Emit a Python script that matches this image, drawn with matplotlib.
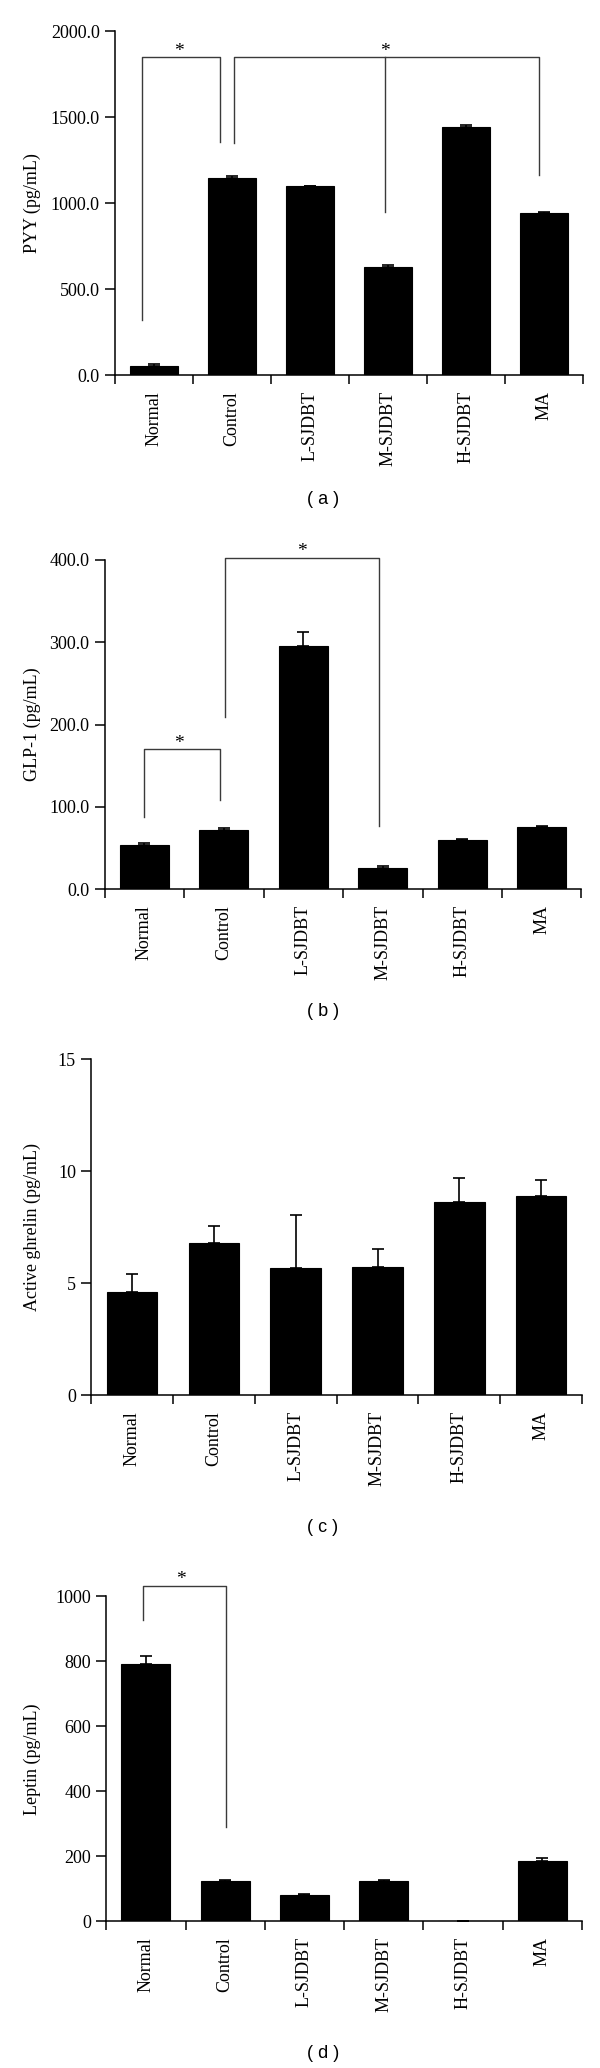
import numpy as np
import matplotlib
matplotlib.use("Agg")
import matplotlib.pyplot as plt

# groups (same for every panel)
groups = ["Normal", "Control", "L-SJDBT", "M-SJDBT", "H-SJDBT", "MA"]

# (a) PYY
pyy_mean = [54, 1143, 1097, 630, 1444, 940]
pyy_err = [8, 12, 4, 8, 8, 6]
# (b) GLP-1
glp_mean = [53.1, 71.4, 295.7, 26.0, 59.6, 75.9]
glp_err = [2.5, 3.2, 16.7, 1.6, 0.8, 0.8]
# (c) active ghrelin
ghr_mean = [4.59, 6.79, 5.69, 5.72, 8.61, 8.88]
ghr_err = [0.83, 0.78, 2.34, 0.79, 1.10, 0.71]
# (d) leptin
lep_mean = [791, 123, 82, 123, 0, 187]
lep_err = [24, 3, 3, 5, 0, 8]

# significance brackets: (x_left, x_right, top, left_end, right_end, star_x, middle drop)
pyy_brackets = [
    (0.35, 1.35, 1847, 320, 1357, 0.82, None),
    (1.53, 5.43, 1847, 1347, 1163, 3.46, (3.46, 950)),
]
glp_brackets = [
    (0.50, 1.45, 170, 88, 108, 0.94, None),
    (1.52, 3.45, 403, 209, 77, 2.48, None),
]
lep_brackets = [
    (0.46, 1.51, 1033, 928, 289, 0.94, None),
]

W, H = 600, 2068
fig = plt.figure(figsize=(W / 100, H / 100), dpi=100)

SERIF = "Liberation Serif"
SANS = "Liberation Sans"


def add_panel(box, means, errs, ymax, ystep, fmt, ylabel, caption, cap_y, brackets):
    left, top, right, bottom = box
    ax = fig.add_axes([left / W, 1 - bottom / H, (right - left) / W, (bottom - top) / H])
    x = np.arange(len(groups)) + 0.5
    ax.bar(x, means, width=0.62, color="black", edgecolor="black", linewidth=0.8, zorder=2)
    ax.errorbar(x, means, yerr=[np.zeros(len(errs)), errs], fmt="none",
                ecolor="black", elinewidth=1.2, capsize=4, capthick=1.2, zorder=3)
    ax.set_xlim(0, len(groups))
    ax.set_ylim(0, ymax)
    ax.spines["top"].set_visible(False)
    ax.spines["right"].set_visible(False)
    for s in ("left", "bottom"):
        ax.spines[s].set_linewidth(1.1)

    # boundary ticks as major, group names on minor ticks
    ax.set_xticks(np.arange(len(groups) + 1))
    ax.set_xticklabels([])
    ax.set_xticks(x, minor=True)
    ax.set_xticklabels(groups, minor=True, rotation=90, fontfamily=SERIF, fontsize=13,
                       va="top", ha="center")
    ax.tick_params(axis="x", which="major", direction="out", length=6.2, width=1.1)
    ax.tick_params(axis="x", which="minor", length=0, pad=11.5)

    yt = np.arange(0, ymax + ystep / 2, ystep)
    ax.set_yticks(yt)
    ax.set_yticklabels([fmt.format(v) for v in yt], fontfamily=SERIF, fontsize=13)
    ax.tick_params(axis="y", direction="out", length=7, width=1.1, pad=4)

    fig.text(32 / W, 1 - (top + bottom) / 2 / H, ylabel, rotation=90, ha="center",
             va="center", fontfamily=SERIF, fontsize=13)
    fig.text(323 / W, 1 - cap_y / H, caption, ha="center", va="center",
             fontfamily=SANS, fontsize=13)

    for xl, xr, yt_, yl, yr, sx, mid in brackets:
        ax.plot([xl, xl, xr, xr], [yl, yt_, yt_, yr], color="#3a3a3a", lw=1.0,
                clip_on=False, zorder=4)
        if mid is not None:
            ax.plot([mid[0], mid[0]], [yt_, mid[1]], color="#3a3a3a", lw=1.0,
                    clip_on=False, zorder=4)
        ax.annotate("*", (sx, yt_), xytext=(0, 1), textcoords="offset points",
                    ha="center", va="baseline", fontfamily=SERIF, fontsize=14,
                    annotation_clip=False)
    return ax


add_panel((115, 31, 583, 375), pyy_mean, pyy_err, 2000, 500, "{:.1f}",
          "PYY (pg/mL)", "( a )", 499, pyy_brackets)
add_panel((104.6, 560, 581.5, 889), glp_mean, glp_err, 400, 100, "{:.1f}",
          "GLP-1 (pg/mL)", "( b )", 1012, glp_brackets)
add_panel((91.2, 1059.3, 582, 1395), ghr_mean, ghr_err, 15, 5, "{:.0f}",
          "Active ghrelin (pg/mL)", "( c )", 1527, [])
add_panel((106.2, 1596.3, 582, 1921.3), lep_mean, lep_err, 1000, 200, "{:.0f}",
          "Leptin (pg/mL)", "( d )", 2053, lep_brackets)

fig.savefig("out.png", dpi=100)
